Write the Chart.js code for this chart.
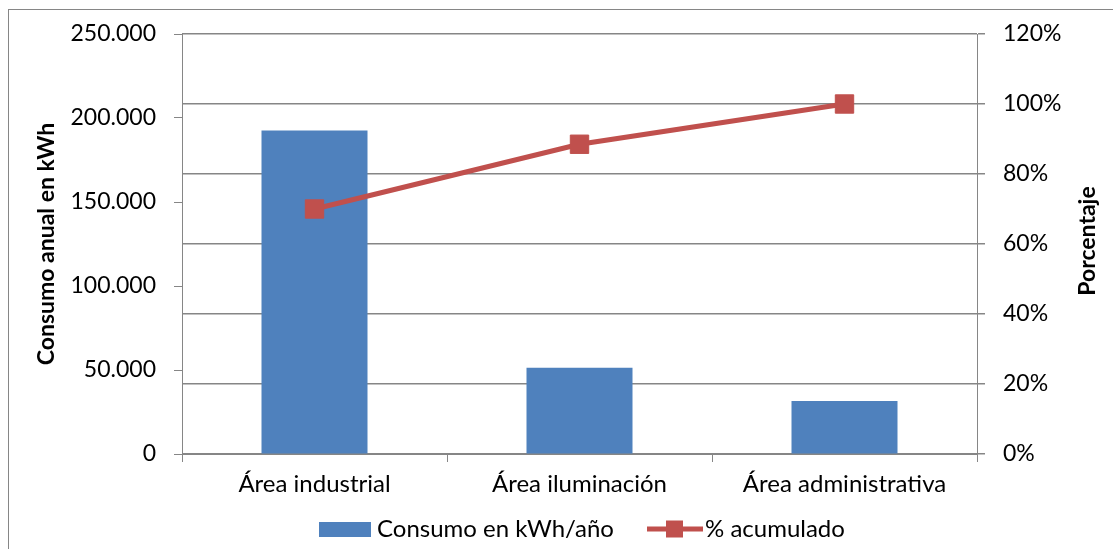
<!DOCTYPE html>
<html lang="es">
<head>
    <meta charset="UTF-8">
    <title>Consumo anual en kWh</title>
    <script src="https://cdn.jsdelivr.net/npm/chart.js"></script>
    <style>
        html, body { margin: 0; padding: 0; background: #fff; overflow: hidden; width: 1113px; height: 549px; }
        #frame {
            position: absolute;
            left: 8px; top: 9px;
            width: 1120px; height: 560px;
            border: 1px solid #868686;
        }
        #chart-container { position: absolute; left: 0; top: 0; width: 1113px; height: 549px; }
    </style>
</head>
<body>

<div id="frame"></div>
<div id="chart-container">
    <canvas id="paretoChart" width="1113" height="549"></canvas>
</div>

<script>
    // data
    const areas = ['Área industrial', 'Área iluminación', 'Área administrativa'];
    const consumo = [192600, 51400, 31500];       // kWh/año
    const acumulado = [70, 88.5, 100];            // %

    const barLabel = 'Consumo en kWh/año';
    const lineLabel = '% acumulado';
    const leftTitle = 'Consumo anual en kWh';
    const rightTitle = 'Porcentaje';

    const BLUE = '#4F81BD';
    const RED = '#C0504D';
    const GRID = '#868686';
    const FONT = 'Lato';

    // thousands with a dot, like the original
    function miles(v) {
        return String(v).replace(/\B(?=(\d{3})+(?!\d))/g, '.');
    }

    // axis titles and the legend are drawn by hand (right title reads bottom-up,
    // legend needs a line with a square marker)
    const extras = {
        id: 'extras',
        afterDraw(chart) {
            const ctx = chart.ctx;
            ctx.save();
            ctx.fillStyle = '#000';
            ctx.font = 'bold 23px ' + FONT;
            ctx.textAlign = 'center';
            ctx.textBaseline = 'middle';

            ctx.save();
            ctx.translate(47, 244);
            ctx.rotate(-Math.PI / 2);
            ctx.fillText(leftTitle, 0, 0);
            ctx.restore();

            ctx.save();
            ctx.translate(1088, 241);
            ctx.rotate(-Math.PI / 2);
            ctx.fillText(rightTitle, 0, 0);
            ctx.restore();

            // legend
            const ly = 529;
            ctx.font = '24px ' + FONT;
            ctx.textAlign = 'left';
            ctx.fillStyle = BLUE;
            ctx.fillRect(319, ly - 7, 52, 15);
            ctx.fillStyle = '#000';
            ctx.fillText(barLabel, 377, ly);

            ctx.strokeStyle = RED;
            ctx.lineWidth = 5;
            ctx.beginPath();
            ctx.moveTo(647, ly);
            ctx.lineTo(703, ly);
            ctx.stroke();
            ctx.fillStyle = RED;
            ctx.fillRect(666, ly - 8.5, 17, 17);
            ctx.fillStyle = '#000';
            ctx.fillText(lineLabel, 705, ly);
            ctx.restore();
        }
    };

    const ctx = document.getElementById('paretoChart').getContext('2d');
    const paretoChart = new Chart(ctx, {
        data: {
            labels: areas,
            datasets: [{
                type: 'line',
                label: lineLabel,
                data: acumulado,
                yAxisID: 'y1',
                borderColor: RED,
                backgroundColor: RED,
                borderWidth: 5,
                pointStyle: 'rect',
                pointRadius: 13,
                pointBorderWidth: 1,
                pointBackgroundColor: RED,
                pointBorderColor: RED,
                tension: 0,
                order: 0
            }, {
                type: 'bar',
                label: barLabel,
                data: consumo,
                yAxisID: 'y',
                backgroundColor: BLUE,
                barPercentage: 0.4,
                categoryPercentage: 1,
                order: 1
            }]
        },
        options: {
            responsive: false,
            animation: false,
            events: [],
            layout: { padding: { left: 8, right: 0, top: 34, bottom: 35 } },
            plugins: {
                legend: { display: false },
                tooltip: { enabled: false }
            },
            scales: {
                x: {
                    afterFit(scale) {
                        scale.height = 60;
                        scale.paddingLeft = 0;
                        scale.paddingRight = 0;
                    },
                    grid: { offset: true, drawOnChartArea: false, drawTicks: true, tickLength: 8, color: GRID },
                    border: { display: true, color: GRID, width: 1 },
                    ticks: { color: '#000', font: { family: FONT, size: 24 }, padding: 8, maxRotation: 0 }
                },
                y: {
                    position: 'left',
                    min: 0,
                    max: 250000,
                    afterFit(scale) { scale.width = 174; },
                    grid: { drawOnChartArea: false, drawTicks: true, tickLength: 8, color: GRID },
                    border: { display: true, color: GRID, width: 1 },
                    ticks: {
                        stepSize: 50000,
                        color: '#000',
                        font: { family: FONT, size: 23 },
                        padding: 18,
                        callback: (v) => miles(v)
                    }
                },
                y1: {
                    position: 'right',
                    min: 0,
                    max: 120,
                    afterFit(scale) { scale.width = 136; },
                    grid: { drawOnChartArea: true, drawTicks: true, tickLength: 8, color: GRID, lineWidth: 1.5 },
                    border: { display: true, color: GRID, width: 1 },
                    ticks: {
                        stepSize: 20,
                        color: '#000',
                        font: { family: FONT, size: 23 },
                        padding: 18,
                        callback: (v) => v + '%'
                    }
                }
            }
        },
        plugins: [extras]
    });
</script>

</body>
</html>
